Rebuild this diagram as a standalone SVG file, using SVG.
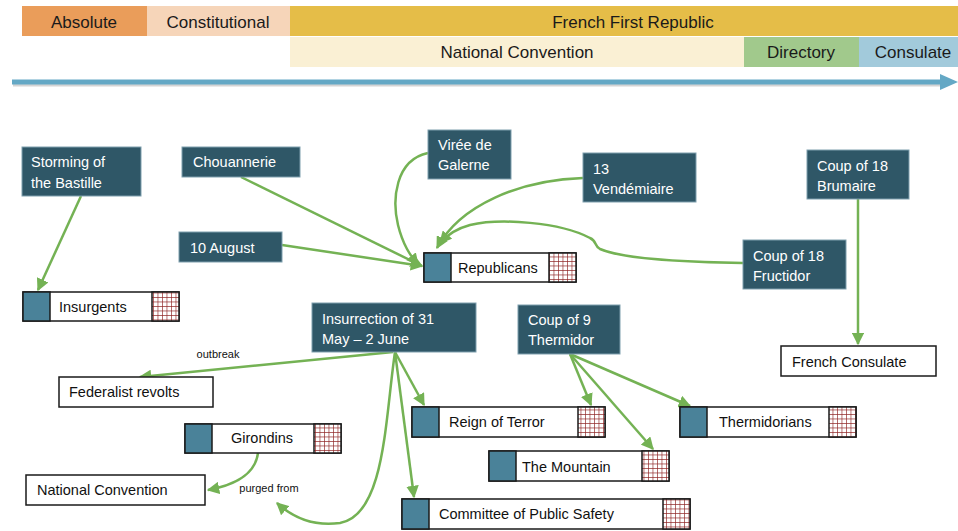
<svg xmlns="http://www.w3.org/2000/svg" width="958" height="531" viewBox="0 0 958 531">
<defs>
<style>
text{font-family:"Liberation Sans",Arial,sans-serif;}
.top{font-size:17px;fill:#1a1a1a;text-anchor:middle;}
.dk{fill:#2F5767;stroke:#7f9fae;stroke-width:1;}
.wt{font-size:14.5px;fill:#ffffff;}
.bt{font-size:14.5px;fill:#111;}
.wb{fill:#ffffff;stroke:#1a1a1a;stroke-width:1.5;}
.sq{fill:#4A8299;stroke:#1a1a1a;stroke-width:1.5;}
.ht{fill:url(#grid);stroke:#1a1a1a;stroke-width:1.5;}
.cn{fill:none;stroke:#74B254;stroke-width:2.5;}
.lb{font-size:11px;fill:#111;text-anchor:middle;}
</style>
<pattern id="grid" width="4.5" height="4.5" patternUnits="userSpaceOnUse">
<rect width="4.5" height="4.5" fill="#ffffff"/>
<path d="M0,0H4.5M0,0V4.5" stroke="#8E2424" stroke-width="1.3"/>
</pattern>
<marker id="ah" viewBox="0 0 10 10" refX="9" refY="5" markerWidth="5" markerHeight="5" orient="auto" markerUnits="strokeWidth">
<path d="M0,0L10,5L0,10z" fill="#74B254"/>
</marker>
</defs>

<g id="timeline">
<rect x="22" y="6" width="125" height="30" fill="#EA9D5A"/>
<text class="top" x="84" y="28">Absolute</text>
<rect x="147" y="6" width="143" height="30" fill="#F6D5B9"/>
<text class="top" x="218" y="28">Constitutional</text>
<rect x="290" y="6" width="668" height="30" fill="#E5BD48"/>
<text class="top" x="633" y="28">French First Republic</text>
<rect x="290" y="37" width="454" height="30" fill="#FAF0D4"/>
<text class="top" x="517" y="58">National Convention</text>
<rect x="744" y="37" width="115" height="30" fill="#A1C98C"/>
<text class="top" x="801" y="58">Directory</text>
<rect x="859" y="37" width="99" height="30" fill="#A2CADB"/>
<text class="top" x="913" y="58">Consulate</text>
<line x1="13" y1="84" x2="944" y2="84" stroke="#d4d4d4" stroke-width="5"/>
<line x1="12" y1="82" x2="944" y2="82" stroke="#64A8C5" stroke-width="5"/>
<path d="M940,74L958,82L940,90z" fill="#64A8C5"/>
</g>

<g id="connectors">
<line class="cn" x1="81" y1="196" x2="38" y2="290" marker-end="url(#ah)"/>
<line class="cn" x1="241" y1="177" x2="422" y2="266" marker-end="url(#ah)"/>
<line class="cn" x1="282" y1="245" x2="422" y2="266" marker-end="url(#ah)"/>
<path class="cn" d="M428,153C395,160 392,200 398,225C403,245 410,255 418,265" marker-end="url(#ah)"/>
<path class="cn" d="M583,178C520,180 460,205 437,248" marker-end="url(#ah)"/>
<path class="cn" d="M743,263C680,262 620,258 600,249C594,246 597,241 590,238C560,222 500,218 470,225C455,229 447,235 440,243" marker-end="url(#ah)"/>
<line class="cn" x1="858" y1="199" x2="858" y2="344" marker-end="url(#ah)"/>
<line class="cn" x1="393" y1="352" x2="140" y2="377" marker-end="url(#ah)"/>
<line class="cn" x1="395" y1="352" x2="424" y2="405" marker-end="url(#ah)"/>
<line class="cn" x1="395" y1="352" x2="414" y2="497" marker-end="url(#ah)"/>
<path class="cn" d="M395,352C385,420 385,515 340,523C310,527 290,515 277,503" marker-end="url(#ah)"/>
<path class="cn" d="M258,453C255,475 235,485 208,490" marker-end="url(#ah)"/>
<line class="cn" x1="570" y1="354" x2="591" y2="405" marker-end="url(#ah)"/>
<line class="cn" x1="570" y1="354" x2="653" y2="449" marker-end="url(#ah)"/>
<line class="cn" x1="570" y1="354" x2="690" y2="406" marker-end="url(#ah)"/>
<text class="lb" x="218" y="358">outbreak</text>
<text class="lb" x="269" y="492">purged from</text>
</g>

<g id="n-bastille"><rect class="dk" x="22" y="147" width="119" height="49"/><text class="wt" x="31" y="167">Storming of</text><text class="wt" x="31" y="188">the Bastille</text></g>
<g id="n-chouannerie"><rect class="dk" x="182" y="147" width="118" height="30"/><text class="wt" x="193" y="167">Chouannerie</text></g>
<g id="n-10august"><rect class="dk" x="179" y="232" width="103" height="30"/><text class="wt" x="190" y="253">10 August</text></g>
<g id="n-viree"><rect class="dk" x="428" y="130" width="83" height="49"/><text class="wt" x="438" y="150">Virée de</text><text class="wt" x="438" y="170">Galerne</text></g>
<g id="n-vendemiaire"><rect class="dk" x="583" y="153" width="113" height="49"/><text class="wt" x="593" y="174">13</text><text class="wt" x="593" y="194">Vendémiaire</text></g>
<g id="n-brumaire"><rect class="dk" x="807" y="150" width="102" height="49"/><text class="wt" x="817" y="171">Coup of 18</text><text class="wt" x="817" y="191">Brumaire</text></g>
<g id="n-fructidor"><rect class="dk" x="743" y="240" width="103" height="49"/><text class="wt" x="753" y="261">Coup of 18</text><text class="wt" x="753" y="281">Fructidor</text></g>
<g id="n-insurrection"><rect class="dk" x="312" y="303" width="164" height="49"/><text class="wt" x="322" y="324">Insurrection of 31</text><text class="wt" x="322" y="344">May – 2 June</text></g>
<g id="n-thermidor"><rect class="dk" x="518" y="305" width="102" height="49"/><text class="wt" x="528" y="325">Coup of 9</text><text class="wt" x="528" y="345">Thermidor</text></g>

<g id="n-insurgents"><rect class="wb" x="23" y="292" width="156" height="29"/><rect class="sq" x="23" y="292" width="27" height="29"/><rect class="ht" x="152" y="292" width="27" height="29"/><text class="bt" x="59" y="312">Insurgents</text></g>
<g id="n-republicans"><rect class="wb" x="424" y="253" width="152" height="29"/><rect class="sq" x="424" y="253" width="27" height="29"/><rect class="ht" x="549" y="253" width="27" height="29"/><text class="bt" x="458" y="273">Republicans</text></g>
<g id="n-girondins"><rect class="wb" x="185" y="424" width="156" height="29"/><rect class="sq" x="185" y="424" width="27" height="29"/><rect class="ht" x="314" y="424" width="27" height="29"/><text class="bt" x="231" y="443">Girondins</text></g>
<g id="n-terror"><rect class="wb" x="412" y="407" width="193" height="30"/><rect class="sq" x="412" y="407" width="27" height="30"/><rect class="ht" x="578" y="407" width="27" height="30"/><text class="bt" x="449" y="427">Reign of Terror</text></g>
<g id="n-mountain"><rect class="wb" x="489" y="451" width="180" height="30"/><rect class="sq" x="489" y="451" width="27" height="30"/><rect class="ht" x="642" y="451" width="27" height="30"/><text class="bt" x="522" y="472">The Mountain</text></g>
<g id="n-thermidorians"><rect class="wb" x="680" y="407" width="176" height="30"/><rect class="sq" x="680" y="407" width="27" height="30"/><rect class="ht" x="829" y="407" width="27" height="30"/><text class="bt" x="719" y="427">Thermidorians</text></g>
<g id="n-committee"><rect class="wb" x="402" y="499" width="288" height="30"/><rect class="sq" x="402" y="499" width="27" height="30"/><rect class="ht" x="663" y="499" width="27" height="30"/><text class="bt" x="439" y="519">Committee of Public Safety</text></g>

<g id="n-federalist"><rect class="wb" x="59" y="377" width="154" height="30"/><text class="bt" x="69" y="397">Federalist revolts</text></g>
<g id="n-natconv"><rect class="wb" x="26" y="475" width="179" height="30"/><text class="bt" x="37" y="495">National Convention</text></g>
<g id="n-consulate"><rect class="wb" x="781" y="346" width="155" height="30"/><text class="bt" x="792" y="367">French Consulate</text></g>
</svg>
